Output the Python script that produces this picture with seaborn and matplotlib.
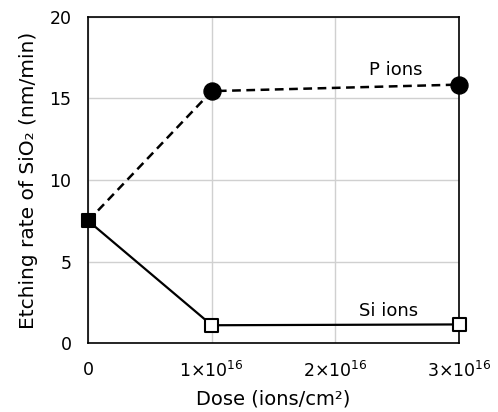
import matplotlib
matplotlib.use("Agg")
import matplotlib.pyplot as plt
import seaborn as sns
import pandas as pd

# Data
dose = [0, 1e16, 3e16]
p_ions = [7.5, 15.45, 15.85]
si_ions = [7.5, 1.1, 1.15]
x_ticks = [0, 1e16, 2e16, 3e16]
x_tick_labels = ["0", "1×10$^{16}$", "2×10$^{16}$", "3×10$^{16}$"]
y_ticks = [0, 5, 10, 15, 20]

df_p = pd.DataFrame({"dose": dose, "rate": p_ions})
df_si = pd.DataFrame({"dose": dose, "rate": si_ions})

sns.set_style("white")
plt.rcParams["font.family"] = ["DejaVu Sans"]
plt.rcParams["mathtext.default"] = "regular"

fig, ax = plt.subplots(figsize=(4.98, 4.12), dpi=100)
fig.subplots_adjust(left=0.177, right=0.922, top=0.959, bottom=0.167)

ax.grid(True, color="#d0d0d0", linewidth=1)
ax.set_axisbelow(True)

# lines
sns.lineplot(data=df_p, x="dose", y="rate", ax=ax, color="black", linewidth=1.8,
             linestyle=(0, (3.5, 2.2)), clip_on=False)
sns.lineplot(data=df_si, x="dose", y="rate", ax=ax, color="black", linewidth=1.6,
             clip_on=False)

# markers (the first P point is hidden under the filled square)
sns.scatterplot(data=df_p.iloc[1:], x="dose", y="rate", ax=ax, color="black", marker="o",
                s=150, edgecolor="black", zorder=5, clip_on=False)
sq_face = ["black", "white", "white"]
ax.scatter(df_si["dose"], df_si["rate"], marker="s", s=90, facecolors=sq_face,
           edgecolors="black", linewidths=1.5, zorder=6, clip_on=False)

ax.text(2.49e16, 16.75, "P ions", ha="center", va="center", fontsize=13, color="black")
ax.text(2.43e16, 1.95, "Si ions", ha="center", va="center", fontsize=13, color="black")

ax.set_xlim(0, 3e16)
ax.set_ylim(0, 20)
ax.set_xticks(x_ticks)
ax.set_xticklabels(x_tick_labels)
ax.set_yticks(y_ticks)
ax.tick_params(axis="x", length=0, labelsize=12.5, pad=13, labelcolor="black")
ax.tick_params(axis="y", length=0, labelsize=12.5, pad=12, labelcolor="black")
ax.xaxis.get_offset_text().set_visible(False)

for s in ax.spines.values():
    s.set_visible(True)
    s.set_color("black")
    s.set_linewidth(1.2)

ax.set_xlabel("Dose (ions/cm²)", fontsize=14, labelpad=6, color="black")
ax.set_ylabel("Etching rate of SiO₂ (nm/min)", fontsize=14.5, labelpad=8, color="black")

fig.savefig("out.png", dpi=100)
